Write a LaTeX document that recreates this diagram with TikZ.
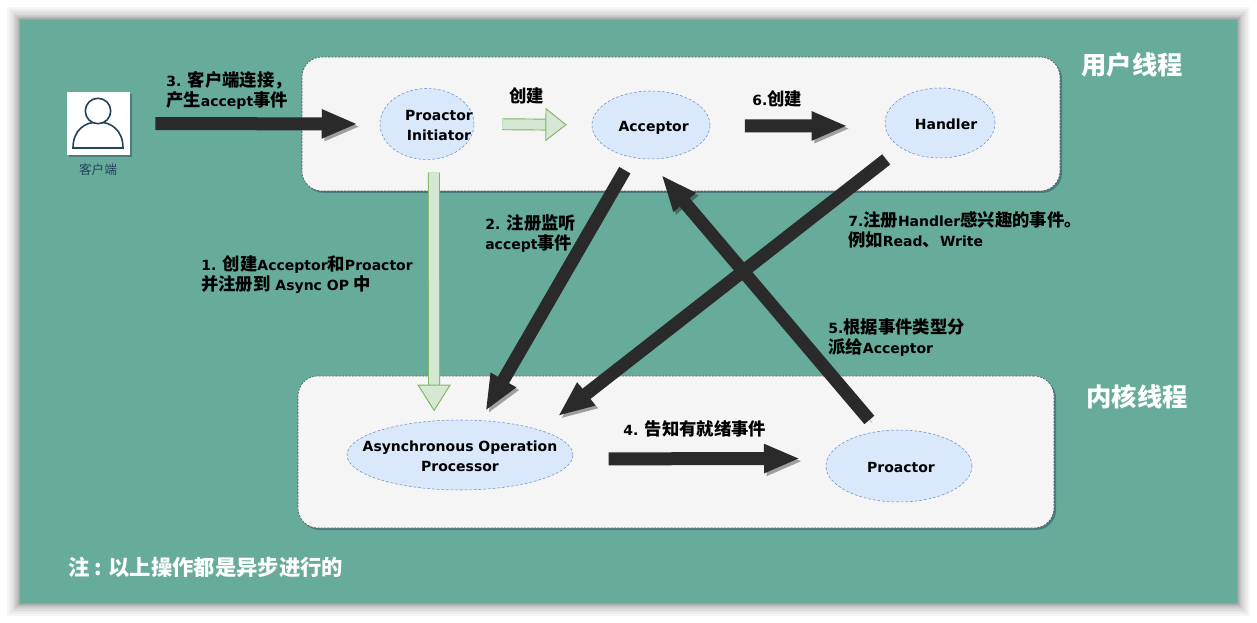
\documentclass[tikz,border=0pt]{standalone}
\usepackage{fontspec}
\usepackage{xcolor}
\usetikzlibrary{shapes.geometric,shadows,arrows.meta}
\setmainfont{DejaVu Sans}
\newfontfamily\zhfont{Noto Sans CJK SC}
\newcommand{\zh}[1]{{\zhfont\fontsize{13}{15}\selectfont #1}}
\newcommand{\inproc}[2]{\makebox[0pt]{\hspace*{#1}\raisebox{-4.85pt}[0pt][0pt]{\begin{tabular}{@{}c@{}}#2\end{tabular}}}}
\definecolor{bgteal}{HTML}{67AB9B}
\definecolor{panelgray}{HTML}{F5F5F5}
\definecolor{procblue}{HTML}{DAE8FC}
\definecolor{procline}{HTML}{6C8EBF}
\definecolor{greenfill}{HTML}{D5E8D4}
\definecolor{greenline}{HTML}{82B366}
\definecolor{arrowdark}{HTML}{2A2A2A}
\definecolor{iconblue}{HTML}{23445D}

\begin{document}
\begin{tikzpicture}[x=0.75pt, y=-0.75pt,
    softshadow/.style = {drop shadow={shadow xshift=1.5pt, shadow yshift=-1.5pt, fill=iconblue, opacity=.45}},
    panel/.style = {draw=black!70, dash pattern=on 1.5pt off 1pt, fill=panelgray, rounded corners=15pt, softshadow, inner sep=0},
    proc/.style = {draw=procline, dash pattern=on 2pt off 1.5pt, fill=procblue, ellipse, inner sep=0, font=\bfseries\fontsize{10.5}{15}\selectfont},
    lab/.style = {anchor=west, inner sep=0, align=left, font=\bfseries\fontsize{10.5}{15}\selectfont},
    title/.style = {inner sep=0, text=white, font=\zhfont\bfseries\fontsize{19}{22}\selectfont},
    darkarrow/.style = {draw=arrowdark, line width=9.75pt, -{Triangle[length=27pt, width=20pt]},
        preaction={draw=black, draw opacity=.35, transform canvas={shift={(2pt,-2pt)}}}},
    lightarrow/.style = {double=greenfill, draw=greenline, line width=.7pt, double distance=7.5pt,
        -{Triangle[length=#1, width=25pt, fill=greenfill]}}]
    \useasboundingbox (0,0) rectangle (1257,623);

    \foreach \w in {1,2,3,4,5,6,8,10,12,15,18,22,26}
        \fill[black, opacity=.035] (20-\w/2,20-\w/2) rectangle (1237+\w/2,603+\w/2);
    \node[fill=bgteal, minimum width=912.75pt, minimum height=437.25pt, inner sep=0] (bg) at (628.5,311.5) {};

    \node[panel, minimum width=568.5pt, minimum height=100.5pt] (user) at (681,124) {};
    \node[panel, minimum width=567pt, minimum height=114pt] (kernel) at (676,452) {};

    \node[fill=white, minimum size=47.25pt, inner sep=0, softshadow] (client) at (98.5,123.5) {};
    \draw[iconblue, line width=1.2pt] (73,148) .. controls (73,130) and (85,122) .. (98,122) .. controls (111,122) and (123,130) .. (123,148) -- cycle;
    \draw[iconblue, line width=1.2pt, fill=white] (98,111) circle[radius=12.7];
    \node[inner sep=0, text=iconblue, font=\zhfont\fontsize{9.5}{11}\selectfont] (clientlab) at (98,170) {客户端};

    \node[proc, minimum width=70.5pt, minimum height=53.25pt] (init) at (427,124) {\inproc{18pt}{Proactor\\Initiator}};
    \node[proc, minimum width=88.5pt, minimum height=51pt] (acc) at (651,125) {\inproc{4pt}{Acceptor}};
    \node[proc, minimum width=82.5pt, minimum height=52.5pt] (handler) at (940,123) {\inproc{9pt}{Handler}};
    \node[proc, minimum width=169.5pt, minimum height=52.5pt] (aop) at (460,455) {\inproc{0pt}{Asynchronous Operation\\Processor}};
    \node[proc, minimum width=109.5pt, minimum height=54pt] (proactor) at (899,466) {\inproc{3pt}{Proactor}};

    \draw[darkarrow] (client.east) [shorten <=18.75pt, shorten >=16.5pt] -- (init.west);
    \draw[lightarrow=16pt] (init.east) [shorten <=21pt, shorten >=18.75pt] -- (acc.west);
    \draw[darkarrow] (acc.-1) [shorten <=26pt, shorten >=28pt] -- (handler.183);
    \draw[lightarrow=20pt] (init.-79) [shorten <=10pt, shorten >=7pt] -- (aop.127);
    \draw[darkarrow] (proactor.120) [shorten <=11pt, shorten >=15.5pt] -- (acc.265);
    \draw[darkarrow] (acc) [shorten <=11pt, shorten >=8pt] -- (aop);
    \draw[darkarrow] (aop.-2) [shorten <=27pt, shorten >=20.5pt] -- (proactor.174);
    \draw[darkarrow] (handler.south west) [shorten <=14pt, shorten >=17pt] -- (aop.north east);

    \node[lab] (t3) at (166,90) {3. \zh{客户端连接，}\\\zh{产生}accept\zh{事件}};
    \node[lab] (tnew) at (509,96) {\zh{创建}};
    \node[lab] (t6) at (752,99) {6.\zh{创建}};
    \node[lab] (t2) at (485,234) {2. \zh{注册监听}\\accept\zh{事件}};
    \node[lab] (t7) at (848,230) {7.\zh{注册}Handler\zh{感兴趣的事件。}\\\zh{例如}Read\zh{、}Write};
    \node[lab] (t1) at (201,275) {1. \zh{创建}Acceptor\zh{和}Proactor\\\zh{并注册到} Async OP \zh{中}};
    \node[lab] (t5) at (828,338) {5.\zh{根据事件类型分}\\\zh{派给}Acceptor};
    \node[lab] (t4) at (623,429) {4. \zh{告知有就绪事件}};

    \node[title] (tuser) at (1132,65) {用户线程};
    \node[title] (tkernel) at (1137,397) {内核线程};
    \node[title, anchor=west, font=\zhfont\bfseries\fontsize{16}{18}\selectfont] (tnote) at (68,567) {注 : 以上操作都是异步进行的};
\end{tikzpicture}
\end{document}
